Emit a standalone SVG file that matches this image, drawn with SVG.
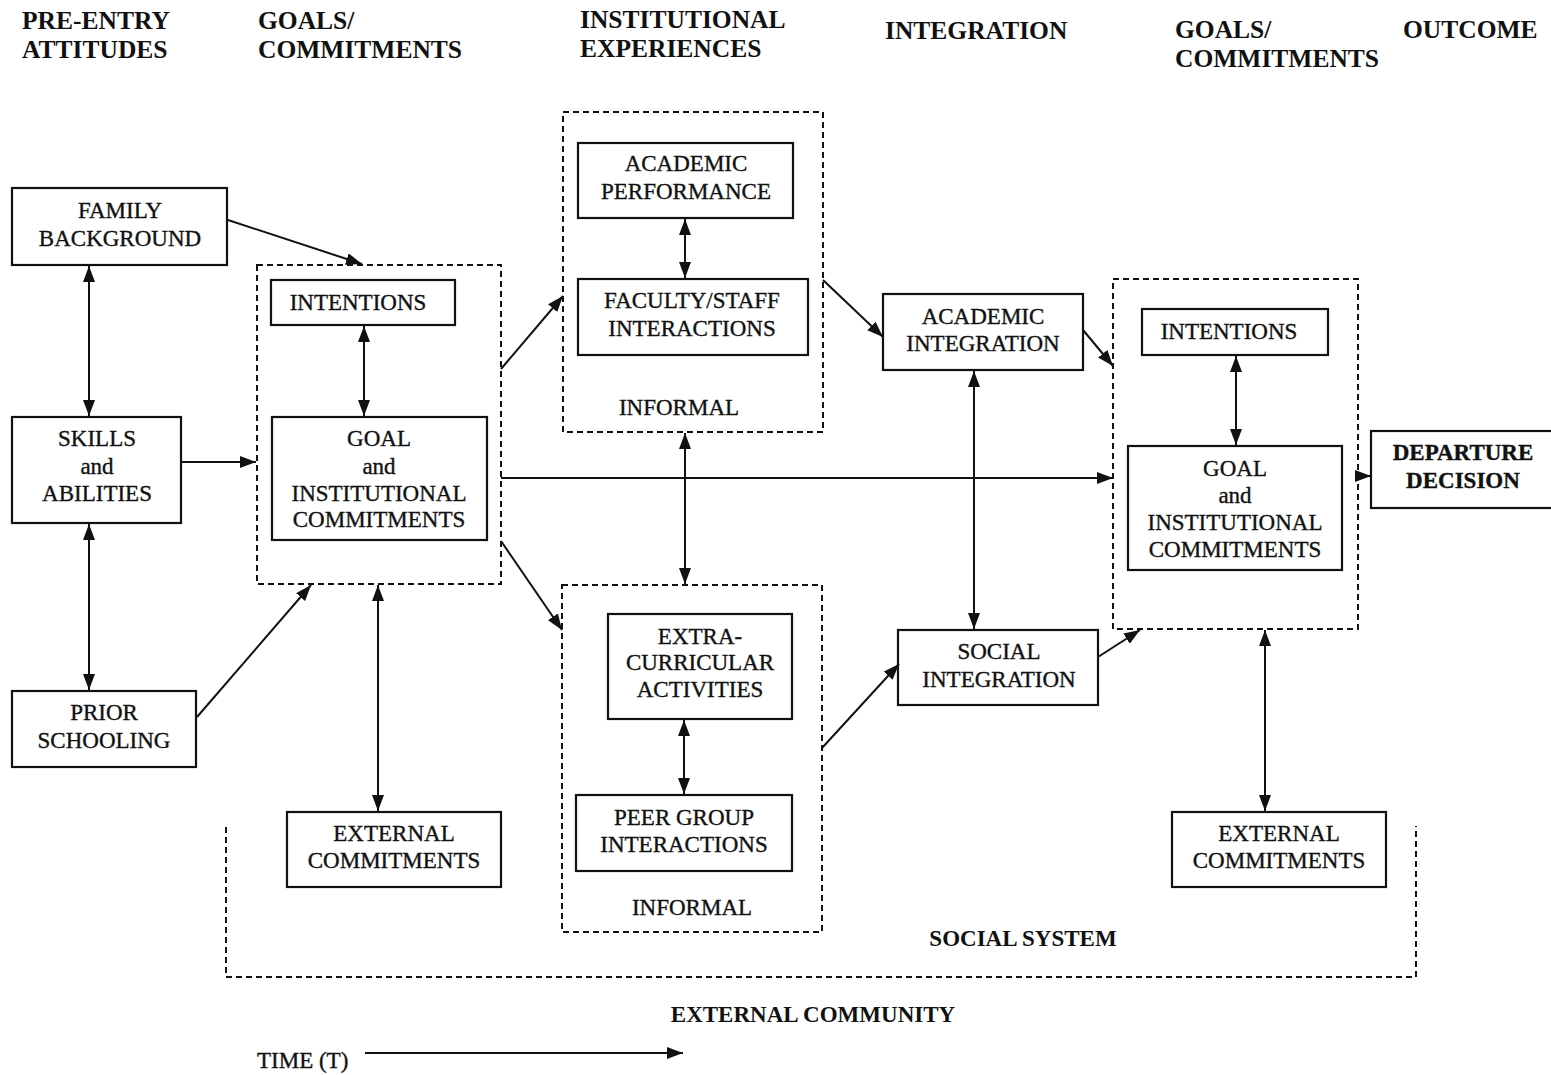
<svg xmlns="http://www.w3.org/2000/svg" width="1551" height="1075" viewBox="0 0 1551 1075">
<style>
.bg{fill:#fff}
.box{fill:#fff;stroke:#111;stroke-width:2.2}
.grp{fill:none;stroke:#111;stroke-width:2;stroke-dasharray:6 4}
.t{font-family:"Liberation Serif","Times New Roman",serif;font-size:23px;fill:#111;stroke:#111;stroke-width:0.35;text-anchor:middle}
.h{font-family:"Liberation Serif","Times New Roman",serif;font-size:25.5px;font-weight:bold;fill:#111}
.b{font-family:"Liberation Serif","Times New Roman",serif;font-size:23px;font-weight:bold;fill:#111;text-anchor:middle}
.c{fill:none;stroke:#111;stroke-width:2}
</style>
<defs>
<marker id="ah" viewBox="0 0 16 12" refX="16" refY="6" markerWidth="16" markerHeight="12" markerUnits="userSpaceOnUse" orient="auto-start-reverse">
<path d="M0,0 L16,6 L0,12 Z" fill="#111"/>
</marker>
</defs>
<rect class="bg" x="0" y="0" width="1551" height="1075"/>

<g id="headers">
<text class="h" x="22" y="29">PRE-ENTRY</text>
<text class="h" x="22" y="58">ATTITUDES</text>
<text class="h" x="258" y="29">GOALS/</text>
<text class="h" x="258" y="58">COMMITMENTS</text>
<text class="h" x="580" y="28">INSTITUTIONAL</text>
<text class="h" x="580" y="57">EXPERIENCES</text>
<text class="h" x="885" y="39">INTEGRATION</text>
<text class="h" x="1175" y="38">GOALS/</text>
<text class="h" x="1175" y="67">COMMITMENTS</text>
<text class="h" x="1403" y="38">OUTCOME</text>
</g>

<g id="social-system">
<path class="grp" d="M226,827 V977 H1416 V826"/>
<text class="b" x="1023" y="946">SOCIAL SYSTEM</text>
</g>
<g id="external-community">
<text class="b" x="813" y="1022">EXTERNAL COMMUNITY</text>
</g>

<g id="group-goals-1"><rect class="grp" x="257" y="265" width="244" height="319"/></g>
<g id="group-formal-academic">
<rect class="grp" x="563" y="112" width="260" height="320"/>
<text class="t" x="679" y="415">INFORMAL</text>
</g>
<g id="group-social-informal">
<rect class="grp" x="562" y="585" width="260" height="347"/>
<text class="t" x="692" y="915">INFORMAL</text>
</g>
<g id="group-goals-2"><rect class="grp" x="1113" y="279" width="245" height="350"/></g>

<g id="family-background">
<rect class="box" x="12" y="188" width="215" height="77"/>
<text class="t" x="120" y="218">FAMILY</text>
<text class="t" x="120" y="246">BACKGROUND</text>
</g>
<g id="skills-abilities">
<rect class="box" x="12" y="417" width="169" height="106"/>
<text class="t" x="97" y="446">SKILLS</text>
<text class="t" x="97" y="474">and</text>
<text class="t" x="97" y="501">ABILITIES</text>
</g>
<g id="prior-schooling">
<rect class="box" x="12" y="691" width="184" height="76"/>
<text class="t" x="104" y="720">PRIOR</text>
<text class="t" x="104" y="748">SCHOOLING</text>
</g>
<g id="intentions-1">
<rect class="box" x="271" y="280" width="184" height="45"/>
<text class="t" x="358" y="310">INTENTIONS</text>
</g>
<g id="goal-commitments-1">
<rect class="box" x="272" y="417" width="215" height="123"/>
<text class="t" x="379" y="446">GOAL</text>
<text class="t" x="379" y="474">and</text>
<text class="t" x="379" y="501">INSTITUTIONAL</text>
<text class="t" x="379" y="527">COMMITMENTS</text>
</g>
<g id="external-commitments-1">
<rect class="box" x="287" y="812" width="214" height="75"/>
<text class="t" x="394" y="841">EXTERNAL</text>
<text class="t" x="394" y="868">COMMITMENTS</text>
</g>
<g id="academic-performance">
<rect class="box" x="578" y="143" width="215" height="75"/>
<text class="t" x="686" y="171">ACADEMIC</text>
<text class="t" x="686" y="199">PERFORMANCE</text>
</g>
<g id="faculty-staff">
<rect class="box" x="578" y="279" width="230" height="76"/>
<text class="t" x="692" y="308">FACULTY/STAFF</text>
<text class="t" x="692" y="336">INTERACTIONS</text>
</g>
<g id="extra-curricular">
<rect class="box" x="608" y="614" width="184" height="105"/>
<text class="t" x="700" y="644">EXTRA-</text>
<text class="t" x="700" y="670">CURRICULAR</text>
<text class="t" x="700" y="697">ACTIVITIES</text>
</g>
<g id="peer-group">
<rect class="box" x="576" y="795" width="216" height="76"/>
<text class="t" x="684" y="825">PEER GROUP</text>
<text class="t" x="684" y="852">INTERACTIONS</text>
</g>
<g id="academic-integration">
<rect class="box" x="883" y="294" width="200" height="76"/>
<text class="t" x="983" y="324">ACADEMIC</text>
<text class="t" x="983" y="351">INTEGRATION</text>
</g>
<g id="social-integration">
<rect class="box" x="898" y="630" width="200" height="75"/>
<text class="t" x="999" y="659">SOCIAL</text>
<text class="t" x="999" y="687">INTEGRATION</text>
</g>
<g id="intentions-2">
<rect class="box" x="1142" y="309" width="186" height="46"/>
<text class="t" x="1229" y="339">INTENTIONS</text>
</g>
<g id="goal-commitments-2">
<rect class="box" x="1128" y="446" width="214" height="124"/>
<text class="t" x="1235" y="476">GOAL</text>
<text class="t" x="1235" y="503">and</text>
<text class="t" x="1235" y="530">INSTITUTIONAL</text>
<text class="t" x="1235" y="557">COMMITMENTS</text>
</g>
<g id="departure-decision">
<rect class="box" x="1371" y="431" width="184" height="77"/>
<text class="t" x="1463" y="460" font-weight="bold">DEPARTURE</text>
<text class="t" x="1463" y="488" font-weight="bold">DECISION</text>
</g>
<g id="external-commitments-2">
<rect class="box" x="1172" y="812" width="214" height="75"/>
<text class="t" x="1279" y="841">EXTERNAL</text>
<text class="t" x="1279" y="868">COMMITMENTS</text>
</g>

<g id="connectors">
<line class="c" x1="228" y1="220" x2="362" y2="264" marker-end="url(#ah)"/>
<line class="c" x1="89" y1="266" x2="89" y2="416" marker-start="url(#ah)" marker-end="url(#ah)"/>
<line class="c" x1="182" y1="462" x2="256" y2="462" marker-end="url(#ah)"/>
<line class="c" x1="89" y1="524" x2="89" y2="690" marker-start="url(#ah)" marker-end="url(#ah)"/>
<line class="c" x1="197" y1="717" x2="311" y2="585" marker-end="url(#ah)"/>
<line class="c" x1="364" y1="326" x2="364" y2="416" marker-start="url(#ah)" marker-end="url(#ah)"/>
<line class="c" x1="378" y1="585" x2="378" y2="811" marker-start="url(#ah)" marker-end="url(#ah)"/>
<line class="c" x1="501" y1="369" x2="563" y2="296" marker-end="url(#ah)"/>
<line class="c" x1="501" y1="478" x2="1113" y2="478" marker-end="url(#ah)"/>
<line class="c" x1="501" y1="541" x2="562" y2="630" marker-end="url(#ah)"/>
<line class="c" x1="685" y1="219" x2="685" y2="278" marker-start="url(#ah)" marker-end="url(#ah)"/>
<line class="c" x1="685" y1="433" x2="685" y2="584" marker-start="url(#ah)" marker-end="url(#ah)"/>
<line class="c" x1="823" y1="280" x2="883" y2="337" marker-end="url(#ah)"/>
<line class="c" x1="684" y1="720" x2="684" y2="794" marker-start="url(#ah)" marker-end="url(#ah)"/>
<line class="c" x1="822" y1="748" x2="899" y2="664" marker-end="url(#ah)"/>
<line class="c" x1="974" y1="371" x2="974" y2="629" marker-start="url(#ah)" marker-end="url(#ah)"/>
<line class="c" x1="1083" y1="330" x2="1113" y2="366" marker-end="url(#ah)"/>
<line class="c" x1="1098" y1="657" x2="1140" y2="630" marker-end="url(#ah)"/>
<line class="c" x1="1236" y1="356" x2="1236" y2="445" marker-start="url(#ah)" marker-end="url(#ah)"/>
<line class="c" x1="1265" y1="630" x2="1265" y2="811" marker-start="url(#ah)" marker-end="url(#ah)"/>
<line class="c" x1="1358" y1="476" x2="1371" y2="476" marker-end="url(#ah)"/>
</g>

<g id="time-axis">
<text class="t" x="257" y="1068" style="text-anchor:start">TIME (T)</text>
<line class="c" x1="365" y1="1053" x2="683" y2="1053" marker-end="url(#ah)"/>
</g>
</svg>
